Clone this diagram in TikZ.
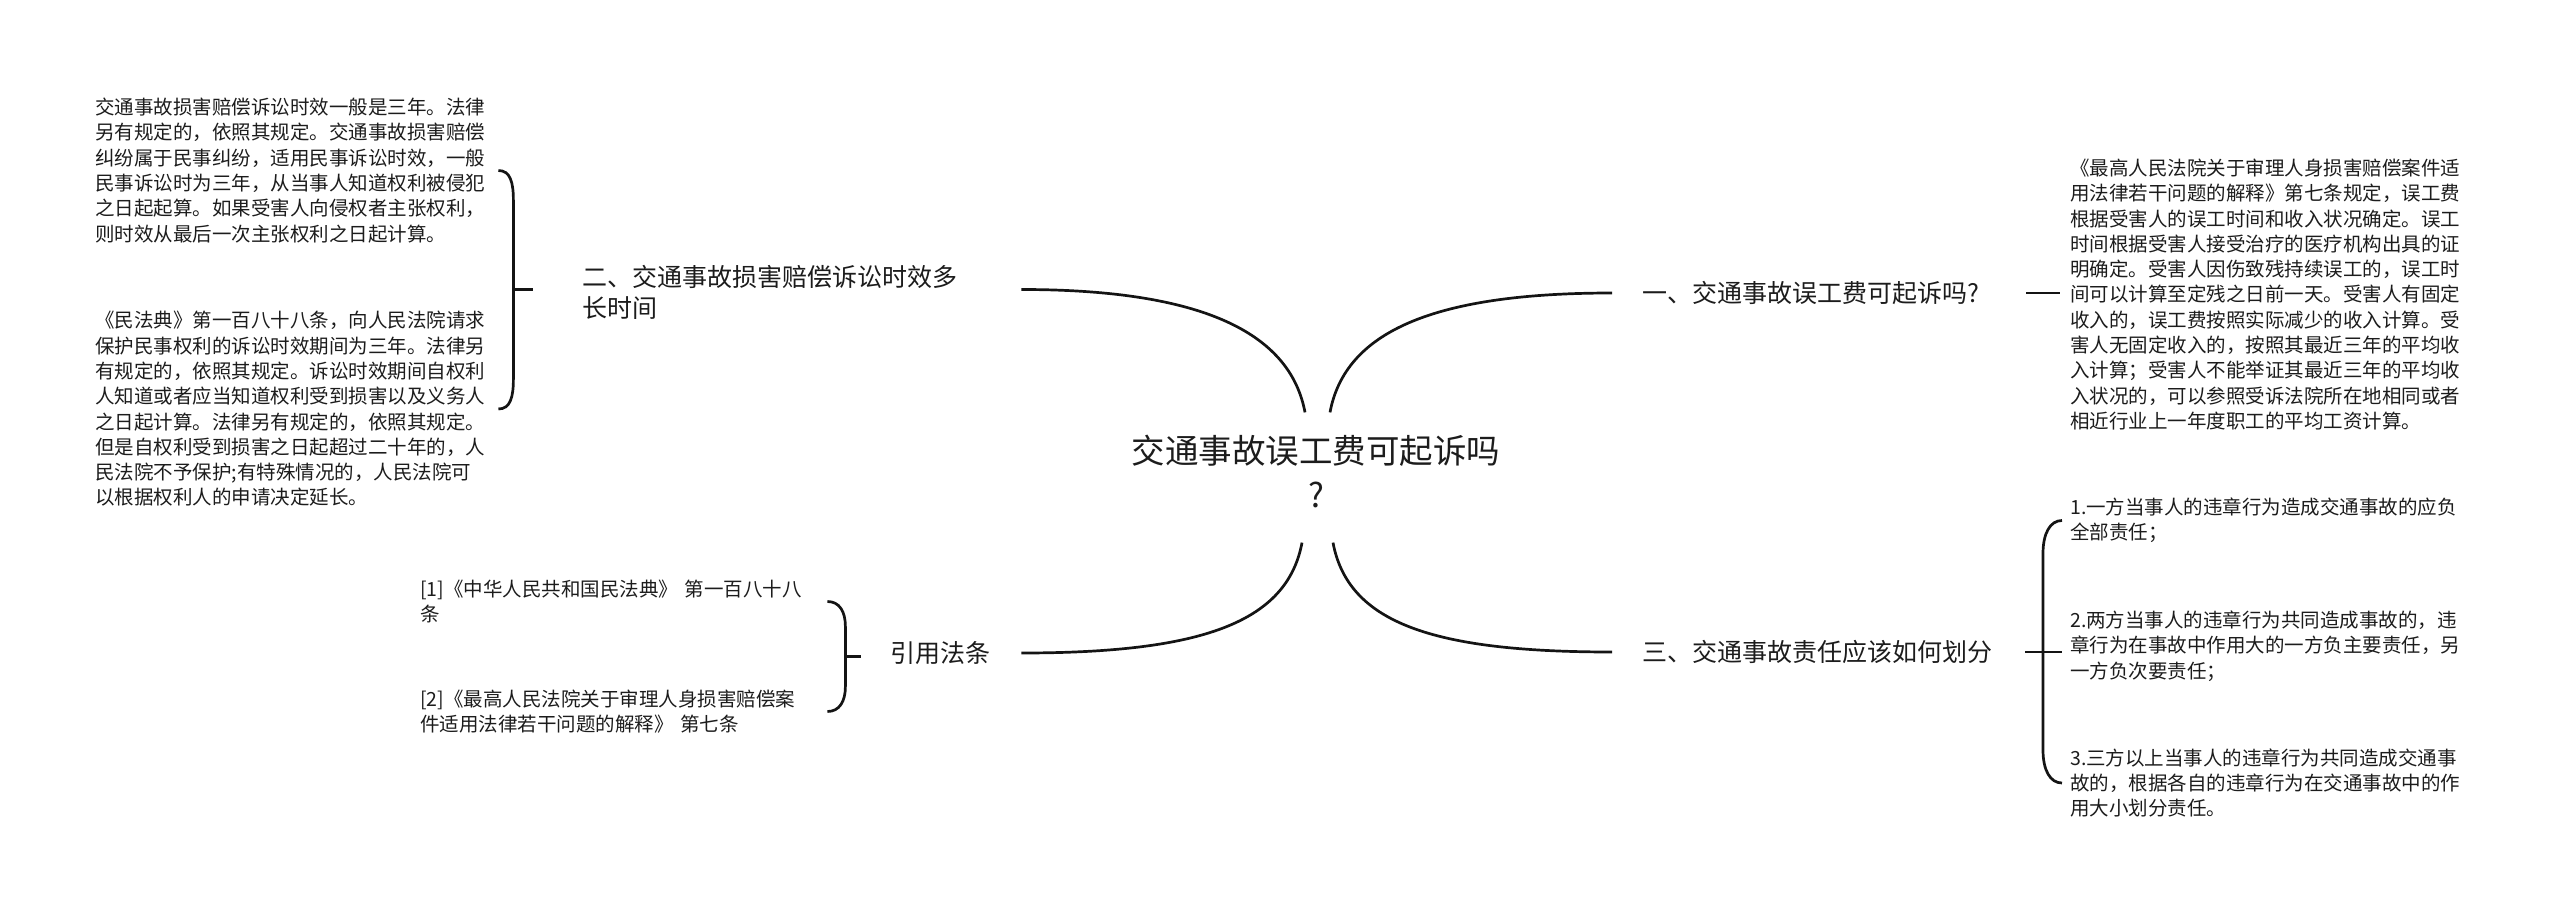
\documentclass[tikz,border=0pt]{standalone}
\usepackage{fontspec}
\setmainfont{Noto Sans CJK SC}
\usetikzlibrary{calc}
\definecolor{inkline}{HTML}{141414}
\definecolor{inktext}{HTML}{1C1C1C}

\begin{document}
\begin{tikzpicture}[x=1pt, y=-1pt,
  leaf/.style={inner sep=0pt, anchor=west, align=left, text width=400pt,
    font=\fontsize{19.5pt}{25.3pt}\selectfont, text=inktext},
  branch/.style={inner sep=0pt, anchor=west, align=left,
    font=\fontsize{25pt}{31pt}\selectfont, text=inktext},
  rootnode/.style={inner sep=0pt, align=center,
    font=\fontsize{33.5pt}{44pt}\selectfont, text=inktext},
  link/.style={draw=inkline, line width=2.7pt}
]
\path[use as bounding box] (0,0) rectangle (2560,915);

\node[rootnode] (root) at (1316,471) {交通事故误工费可起诉吗\\?};

\node[branch] (b1) at (1642,293) {一、交通事故误工费可起诉吗?};
\node[branch, text width=380pt] (b2) at (582,292.5) {二、交通事故损害赔偿诉讼时效多\\长时间};
\node[branch] (b3) at (1642,652) {三、交通事故责任应该如何划分};
\node[branch] (b4) at (890,653) {引用法条};

\node[leaf] (r1) at (2070,294.5) {《最高人民法院关于审理人身损害赔偿案件适\\用法律若干问题的解释》第七条规定，误工费\\根据受害人的误工时间和收入状况确定。误工\\时间根据受害人接受治疗的医疗机构出具的证\\明确定。受害人因伤致残持续误工的，误工时\\间可以计算至定残之日前一天。受害人有固定\\收入的，误工费按照实际减少的收入计算。受\\害人无固定收入的，按照其最近三年的平均收\\入计算；受害人不能举证其最近三年的平均收\\入状况的，可以参照受诉法院所在地相同或者\\相近行业上一年度职工的平均工资计算。};

\node[leaf, text width=392pt] (l1) at (95,170.5) {交通事故损害赔偿诉讼时效一般是三年。法律\\另有规定的，依照其规定。交通事故损害赔偿\\纠纷属于民事纠纷，适用民事诉讼时效，一般\\民事诉讼时为三年，从当事人知道权利被侵犯\\之日起起算。如果受害人向侵权者主张权利，\\则时效从最后一次主张权利之日起计算。};
\node[leaf, text width=392pt] (l2) at (95,409) {《民法典》第一百八十八条，向人民法院请求\\保护民事权利的诉讼时效期间为三年。法律另\\有规定的，依照其规定。诉讼时效期间自权利\\人知道或者应当知道权利受到损害以及义务人\\之日起计算。法律另有规定的，依照其规定。\\但是自权利受到损害之日起超过二十年的，人\\民法院不予保护;有特殊情况的，人民法院可\\以根据权利人的申请决定延长。};

\node[leaf] (r2a) at (2070,520.5) {1.一方当事人的违章行为造成交通事故的应负\\全部责任；};
\node[leaf] (r2b) at (2070,646) {2.两方当事人的违章行为共同造成事故的，违\\章行为在事故中作用大的一方负主要责任，另\\一方负次要责任；};
\node[leaf] (r2c) at (2070,783) {3.三方以上当事人的违章行为共同造成交通事\\故的，根据各自的违章行为在交通事故中的作\\用大小划分责任。};

\node[leaf] (c1) at (420,601.5) {[1]《中华人民共和国民法典》 第一百八十八\\条};
\node[leaf] (c2) at (420,711.5) {[2]《最高人民法院关于审理人身损害赔偿案\\件适用法律若干问题的解释》 第七条};

\draw[link] ($(root.north)+(14,-22)$) .. controls +(15,-80) and +(-180,0) .. ($(b1.west)+(-30,0)$);
\draw[link] ($(root.north)+(-11,-22)$) .. controls +(-15,-80) and +(180,0) .. ($(b2.east)+(59,-3)$);
\draw[link] ($(root.south)+(17,35)$) .. controls +(15,80) and +(-180,0) .. ($(b3.west)+(-30,0)$);
\draw[link] ($(root.south)+(-14,35)$) .. controls +(-15,80) and +(180,0) .. ($(b4.east)+(31,0)$);

\draw[link] ($(b1.east)+(47,0)$) -- ($(b1.east -| r1.west)+(-10,0)$);
\draw[link] ($(b3.east)+(33,0)$) -- ($(b3.east -| r2b.west)+(-8,0)$);
\draw[link] ($(r2a.west)+(-8,0)$) .. controls +(-12,0) and +(0,-20) .. ($(r2a.west)+(-27,33)$)
  -- ($(r2c.west)+(-27,-33)$) .. controls +(0,20) and +(-12,0) .. ($(r2c.west)+(-8,0)$);

\draw[link] ($(l1.east)+(11,0)$) .. controls +(12,0) and +(0,-18) .. ($(l1.east)+(26,30)$)
  -- ($(l2.east)+(26,-30)$) .. controls +(0,18) and +(12,0) .. ($(l2.east)+(11,0)$);
\draw[link] ($(l1.east)!.5!(l2.east)+(26,0)$) -- +(20,0);

\draw[link] ($(c1.east)+(7,0)$) .. controls +(12,0) and +(0,-15) .. ($(c1.east)+(25,25)$)
  -- ($(c2.east)+(25,-25)$) .. controls +(0,15) and +(12,0) .. ($(c2.east)+(7,0)$);
\draw[link] ($(c1.east)!.5!(c2.east)+(25,0)$) -- +(16,0);
\end{tikzpicture}
\end{document}
